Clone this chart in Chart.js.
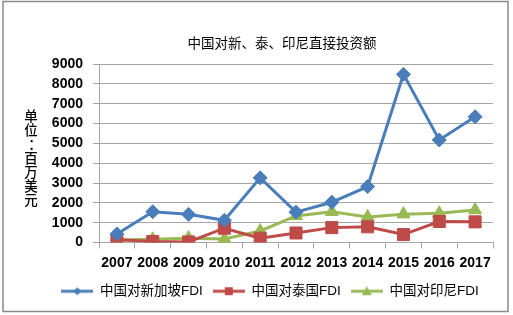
<!DOCTYPE html>
<html>
<head>
<meta charset="utf-8">
<script src="https://cdn.jsdelivr.net/npm/chart.js@4/dist/chart.umd.min.js"></script>
<style>
  html, body { margin: 0; padding: 0; background: #fff; }
  #wrap { width: 513px; height: 315px; position: relative; }
</style>
</head>
<body>
<div id="wrap"><canvas id="fdiChart" width="513" height="315"></canvas></div>
<script>
var years = ['2007', '2008', '2009', '2010', '2011', '2012', '2013', '2014', '2015', '2016', '2017'];
var singapore = [430, 1550, 1420, 1120, 3260, 1530, 2030, 2820, 8480, 5170, 6340];
var thailand = [150, 50, 30, 720, 220, 480, 750, 790, 400, 1060, 1040];
var indonesia = [110, 160, 220, 180, 580, 1340, 1550, 1290, 1430, 1470, 1640];
var seriesNames = ['中国对新加坡FDI', '中国对泰国FDI', '中国对印尼FDI'];
var chartTitle = '中国对新、泰、印尼直接投资额';
var yTitle = ['单', '位', '：', '百', '万', '美', '元'];

var fontFamily = '"Liberation Sans", Arial, "Noto Sans CJK SC", sans-serif';
var colors = ['#4A7EBB', '#BE4B48', '#98B954'];

// legend icon: short line with a small marker in the middle
function legendIcon(color, shape) {
    var c = document.createElement('canvas');
    c.width = 32; c.height = 14;
    var g = c.getContext('2d');
    g.strokeStyle = color; g.fillStyle = color; g.lineWidth = 3;
    g.beginPath(); g.moveTo(0, 7); g.lineTo(32, 7); g.stroke();
    g.beginPath();
    if (shape === 'diamond') {
        g.moveTo(16, 3); g.lineTo(20, 7); g.lineTo(16, 11); g.lineTo(12, 7);
    } else if (shape === 'square') {
        g.rect(12, 3, 8, 8);
    } else {
        g.moveTo(16, 2); g.lineTo(21, 11); g.lineTo(11, 11);
    }
    g.closePath(); g.fill();
    return c;
}
var icons = [legendIcon(colors[0], 'diamond'), legendIcon(colors[1], 'square'), legendIcon(colors[2], 'triangle')];

var extras = {
    id: 'extras',
    beforeDraw: function(chart) {
        var ctx = chart.ctx;
        ctx.save();
        ctx.fillStyle = '#fff';
        ctx.fillRect(0, 0, chart.width, chart.height);
        ctx.strokeStyle = '#8a8a8a';
        ctx.lineWidth = 1.5;
        ctx.strokeRect(3, 1.5, 505, 310);
        ctx.restore();
    },
    afterDraw: function(chart) {
        var ctx = chart.ctx;
        ctx.save();
        ctx.fillStyle = '#000';
        ctx.textAlign = 'center';
        ctx.textBaseline = 'middle';
        ctx.font = '13.5px ' + fontFamily;
        ctx.fillText(chartTitle, 282, 44);
        ctx.font = '500 13.5px ' + fontFamily;
        for (var i = 0; i < yTitle.length; i++) {
            // full-width colon sits left in its box, nudge it to the column centre
            var dx = yTitle[i] === '：' ? 4 : 0;
            ctx.fillText(yTitle[i], 31 + dx, 117 + i * 14);
        }
        ctx.restore();
    }
};

var ctx = document.getElementById('fdiChart').getContext('2d');
var fdiChart = new Chart(ctx, {
    type: 'line',
    data: {
        labels: years,
        datasets: [{
            label: seriesNames[0],
            data: singapore,
            borderColor: colors[0],
            backgroundColor: colors[0],
            borderWidth: 3,
            pointStyle: 'rectRot',
            pointRadius: 7,
            pointBorderWidth: 1
        }, {
            label: seriesNames[1],
            data: thailand,
            borderColor: colors[1],
            backgroundColor: colors[1],
            borderWidth: 3,
            pointStyle: 'rect',
            pointRadius: 8.5,
            pointBorderWidth: 1
        }, {
            label: seriesNames[2],
            data: indonesia,
            borderColor: colors[2],
            backgroundColor: colors[2],
            borderWidth: 3,
            pointStyle: 'triangle',
            pointRadius: 7.5,
            pointBorderWidth: 1
        }]
    },
    options: {
        responsive: false,
        animation: false,
        layout: {
            padding: { left: 47, right: 20, top: 64, bottom: 7 }
        },
        scales: {
            x: {
                offset: true,
                grid: {
                    offset: true,
                    drawOnChartArea: false,
                    color: '#a6a6a6',
                    tickLength: 6
                },
                border: { color: '#a6a6a6' },
                ticks: {
                    color: '#000',
                    padding: 6,
                    maxRotation: 0,
                    autoSkip: false,
                    font: { family: fontFamily, size: 14, weight: 'bold' }
                },
                afterFit: function(scale) { scale.height = 32; }
            },
            y: {
                min: 0,
                max: 9000,
                grid: {
                    color: '#a6a6a6',
                    tickLength: 6
                },
                border: { color: '#a6a6a6' },
                ticks: {
                    stepSize: 1000,
                    color: '#000',
                    padding: 10,
                    font: { family: fontFamily, size: 14, weight: 'bold' },
                    callback: function(value) { return String(value); }
                },
                afterFit: function(scale) { scale.width = 52; }
            }
        },
        plugins: {
            title: { display: false },
            tooltip: { enabled: false },
            legend: {
                position: 'bottom',
                labels: {
                    usePointStyle: true,
                    pointStyleWidth: 32,
                    padding: 10,
                    color: '#000',
                    font: { family: fontFamily, size: 13.5 },
                    generateLabels: function(chart) {
                        var items = Chart.defaults.plugins.legend.labels.generateLabels(chart);
                        items.forEach(function(item, i) {
                            item.pointStyle = icons[i];
                            item.rotation = 0;
                        });
                        return items;
                    }
                }
            }
        }
    },
    plugins: [extras]
});
</script>
</body>
</html>
